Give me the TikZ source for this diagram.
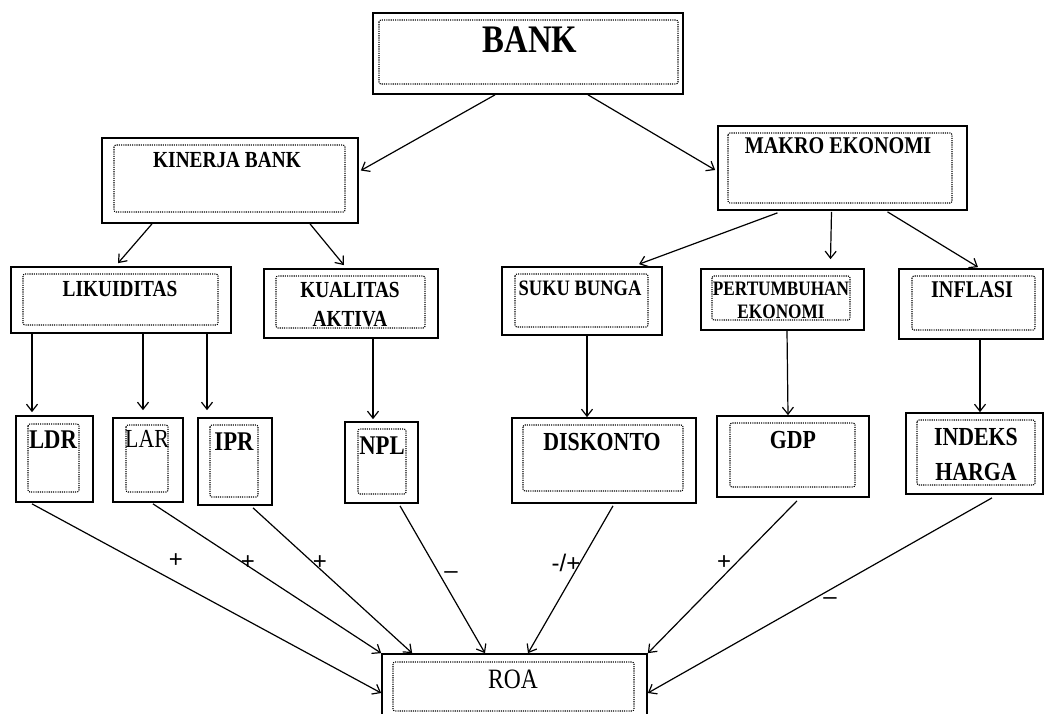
\documentclass[tikz,border=0pt]{standalone}
\usepackage{fontspec}
\setmainfont[FakeStretch=0.84]{Liberation Serif}
\newfontfamily\signfont{Liberation Sans}
\usetikzlibrary{arrows.meta,fit,calc}
\tikzset{
  obox/.style={draw, line width=1.7pt, inner sep=0pt, fit={#1}},
  ibox/.style={draw, line width=1.1pt, dash pattern=on 1.1pt off 1.1pt, rounded corners=2pt},
  lbl/.style={anchor=base, inner sep=0pt, font=\bfseries\fontsize{#1}{#1}\selectfont},
  rlbl/.style={anchor=base, inner sep=0pt, font=\fontsize{#1}{#1}\selectfont},
  sgn/.style={inner sep=0pt, font=\signfont\fontsize{24}{24}\selectfont},
  arr/.style={draw, line width=1.2pt, -{Straight Barb[length=7pt,width=11pt]}}
}
\begin{document}
\begin{tikzpicture}[x=1pt,y=-1pt]
\useasboundingbox (0,0) rectangle (1046,713);
% ---- boxes ----
\node[obox={(373,13)(683,94)}] (bank) {};
\draw[ibox] (379,20) rectangle (678,84);
\node[lbl=39] (bank-t) at (530,52) {BANK};

\node[obox={(102,138)(358,223)}] (kin) {};
\draw[ibox] (114,145) rectangle (345,212);
\node[lbl=23] (kin-t) at (227,167) {KINERJA BANK};

\node[obox={(718,126)(967,210)}] (mak) {};
\draw[ibox] (728,133) rectangle (952,203);
\node[lbl=24] (mak-t) at (838,153) {MAKRO EKONOMI};

\node[obox={(11,267)(231,333)}] (liq) {};
\draw[ibox] (23,274) rectangle (218,325);
\node[lbl=23] (liq-t) at (120,296) {LIKUIDITAS};

\node[obox={(264,269)(438,338)}] (kua) {};
\draw[ibox] (276,276) rectangle (425,328);
\node[lbl=23] (kua-t1) at (350,297) {KUALITAS};
\node[lbl=23] (kua-t2) at (350,326) {AKTIVA};

\node[obox={(502,267)(662,335)}] (suk) {};
\draw[ibox] (515,274) rectangle (648,327);
\node[lbl=22] (suk-t) at (580,295) {SUKU BUNGA};

\node[obox={(701,269)(864,330)}] (per) {};
\draw[ibox] (712,276) rectangle (850,320);
\node[lbl=20.5] (per-t1) at (781,295) {PERTUMBUHAN};
\node[lbl=20.5] (per-t2) at (781,318) {EKONOMI};

\node[obox={(899,269)(1043,339)}] (inf) {};
\draw[ibox] (912,276) rectangle (1035,330);
\node[lbl=24] (inf-t) at (972,297) {INFLASI};

\node[obox={(16,416)(93,502)}] (ldr) {};
\draw[ibox] (28,424) rectangle (79,492);
\node[lbl=27] (ldr-t) at (53,448) {LDR};

\node[obox={(113,418)(183,502)}] (lar) {};
\draw[ibox] (126,425) rectangle (168,492);
\node[rlbl=26] (lar-t) at (147,447) {LAR};

\node[obox={(198,418)(272,505)}] (ipr) {};
\draw[ibox] (210,425) rectangle (258,497);
\node[lbl=27] (ipr-t) at (234,450) {IPR};

\node[obox={(345,422)(418,503)}] (npl) {};
\draw[ibox] (358,429) rectangle (406,494);
\node[lbl=27] (npl-t) at (382,454) {NPL};

\node[obox={(512,418)(696,503)}] (dis) {};
\draw[ibox] (523,425) rectangle (683,491);
\node[lbl=26] (dis-t) at (602,450) {DISKONTO};

\node[obox={(717,416)(869,497)}] (gdp) {};
\draw[ibox] (730,423) rectangle (855,487);
\node[lbl=26] (gdp-t) at (793,448) {GDP};

\node[obox={(906,413)(1043,494)}] (idx) {};
\draw[ibox] (917,420) rectangle (1035,485);
\node[lbl=26] (idx-t1) at (976,445) {INDEKS};
\node[lbl=26] (idx-t2) at (976,480) {HARGA};

\node[obox={(382,654)(647,722)}] (roa) {};
\draw[ibox] (393,662) rectangle (634,711);
\node[rlbl=28] (roa-t) at (513,688) {ROA};

% ---- connectors ----
\draw[arr] ($(bank.south)+(-33,0)$) -- ($(kin.east)+(2,-10)$);
\draw[arr] ($(bank.south)+(60,0)$) -- ($(mak.west)+(-2,2)$);
\draw[arr] ($(kin.south)+(-78,0)$) -- ($(liq.north)+(-3,-3)$);
\draw[arr] ($(kin.south)+(80,0)$) -- ($(kua.north)+(-7,-3)$);
\draw[arr] ($(mak.south)+(-65,2)$) -- ($(suk.north)+(57,-2)$);
\draw[arr] ($(mak.south)+(-11,1)$) -- ($(per.north)+(48,-9)$);
\draw[arr] ($(mak.south)+(45,1)$) -- ($(inf.north)+(7,-1)$);

\draw[arr] ($(liq.south)+(-89,0)$) -- ($(ldr.north)+(-22.5,-3)$);
\draw[arr] ($(liq.south)+(22,0)$) -- ($(lar.north)+(-5,-7)$);
\draw[arr] ($(liq.south)+(86,0)$) -- ($(ipr.north)+(-28,-7)$);
\draw[arr] ($(kua.south)+(22,0)$) -- ($(npl.north)+(-8.5,-2)$);
\draw[arr] ($(suk.south)+(5,0)$) -- ($(dis.north)+(-17,0)$);
\draw[arr] ($(per.south)+(4.5,0)$) -- ($(gdp.north)+(-5,0)$);
\draw[arr] ($(inf.south)+(9,0)$) -- ($(idx.north)+(5.5,0)$);

\draw[arr] ($(ldr.south)+(-22.5,1)$) -- ($(roa.west)+(0,5)$);
\draw[arr] ($(lar.south)+(5,1)$) -- (roa.north west);
\draw[arr] ($(ipr.south)+(18,2)$) -- ($(roa.north west)+(31,0)$);
\draw[arr] ($(npl.south)+(18.5,2)$) -- ($(roa.north)+(-29.5,0)$);
\draw[arr] ($(dis.south)+(9,2)$) -- ($(roa.north)+(13.5,0)$);
\draw[arr] ($(gdp.south)+(4,3)$) -- (roa.north east);
\draw[arr] ($(idx.south)+(17.5,3)$) -- ($(roa.east)+(0,5)$);

% ---- signs ----
\node[sgn] (s1) at (176,561) {+};
\node[sgn] (s2) at (248,563) {+};
\node[sgn] (s3) at (320,563) {+};
\node[sgn] (s4) at (451,575) {–};
\node[sgn] (s5) at (566,563) {-/+};
\node[sgn] (s6) at (724,563) {+};
\node[sgn] (s7) at (830,601) {–};
\end{tikzpicture}
\end{document}
